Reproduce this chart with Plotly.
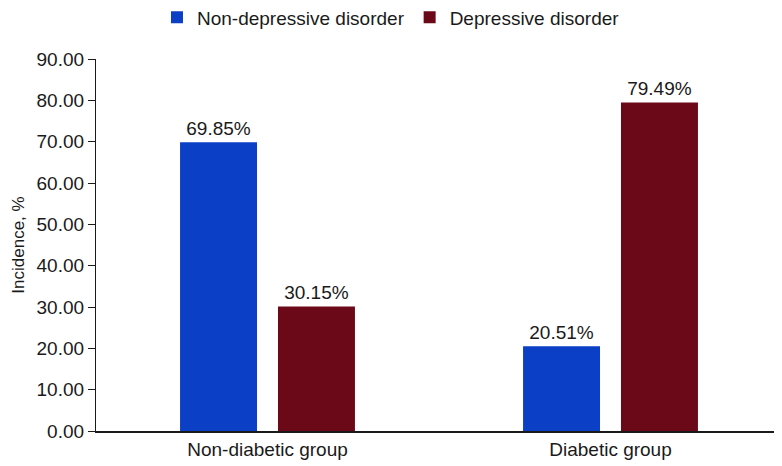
import plotly.graph_objects as go

categories = ["Non-diabetic group", "Diabetic group"]
non_depressive = [69.85, 20.51]
depressive = [30.15, 79.49]
series_names = ["Non-depressive disorder", "Depressive disorder"]
y_ticks = [0, 10, 20, 30, 40, 50, 60, 70, 80, 90]

FONT = "Liberation Sans, Arial, sans-serif"
blue = "#0b3fc6"
red = "#6c0918"
TXT = "#1a1a1a"

fig = go.Figure()
fig.add_trace(go.Bar(
    x=categories, y=non_depressive, name=series_names[0],
    marker=dict(color=blue, line=dict(width=0)),
    text=[f"{v:.2f}%" for v in non_depressive], textposition="outside",
    textfont=dict(size=19, color=TXT, family=FONT), cliponaxis=False,
    constraintext="none",
))
fig.add_trace(go.Bar(
    x=categories, y=depressive, name=series_names[1],
    marker=dict(color=red, line=dict(width=0)),
    text=[f"{v:.2f}%" for v in depressive], textposition="outside",
    textfont=dict(size=19, color=TXT, family=FONT), cliponaxis=False,
    constraintext="none",
))

fig.update_layout(
    width=774, height=458,
    margin=dict(l=88, r=0, t=51, b=35, autoexpand=False),
    paper_bgcolor="white", plot_bgcolor="white",
    font=dict(family=FONT, size=19, color=TXT),
    barmode="group", bargap=0.429, bargroupgap=0.214,
    showlegend=True,
    legend=dict(orientation="h", x=0.43, xanchor="center",
                y=1.112, yanchor="middle",
                font=dict(size=19, color=TXT), itemwidth=30, traceorder="normal",
                itemclick=False),
    xaxis=dict(
        range=[-0.5, 1.5], showline=True, linecolor=TXT, linewidth=1.5,
        ticks="", showgrid=False, tickfont=dict(size=19, color=TXT), automargin=False,
    ),
    yaxis=dict(
        range=[0, 90], tickvals=y_ticks, tickformat=".2f",
        showline=True, linecolor=TXT, linewidth=1.3,
        ticks="outside", ticklen=7, tickcolor=TXT, tickwidth=1.2, showgrid=False, zeroline=False,
        tickfont=dict(size=19, color=TXT), automargin=False,
        title=dict(text="Incidence, %", font=dict(size=17, color=TXT), standoff=7),
    ),
)

fig.write_html("out.html")
